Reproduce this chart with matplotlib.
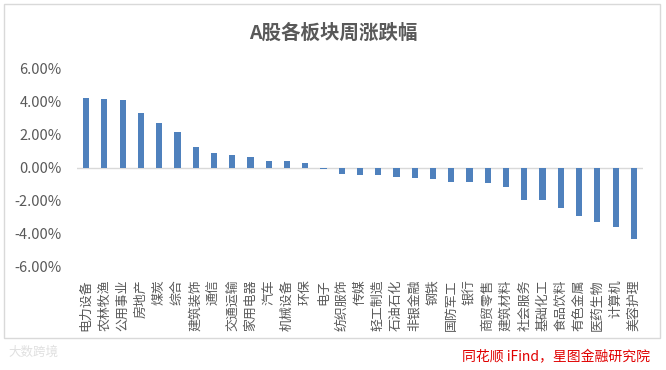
import matplotlib
matplotlib.use("Agg")
import matplotlib.pyplot as plt
from matplotlib.patches import Rectangle
from matplotlib.ticker import FuncFormatter

plt.rcParams['font.family'] = ['Noto Sans CJK SC', 'DejaVu Sans']

# 板块及周涨跌幅 (%)
sectors = ['电力设备', '农林牧渔', '公用事业', '房地产', '煤炭', '综合', '建筑装饰', '通信',
           '交通运输', '家用电器', '汽车', '机械设备', '环保', '电子', '纺织服饰', '传媒',
           '轻工制造', '石油石化', '非银金融', '钢铁', '国防军工', '银行', '商贸零售', '建筑材料',
           '社会服务', '基础化工', '食品饮料', '有色金属', '医药生物', '计算机', '美容护理']
changes = [4.17, 4.11, 4.05, 3.29, 2.69, 2.15, 1.22, 0.86,
           0.74, 0.62, 0.40, 0.40, 0.26, -0.08, -0.40, -0.45,
           -0.45, -0.58, -0.64, -0.70, -0.88, -0.88, -0.94, -1.18,
           -1.95, -1.95, -2.43, -2.93, -3.29, -3.59, -4.32]
yticks = [-6, -4, -2, 0, 2, 4, 6]

W, H = 666, 370
fig = plt.figure(figsize=(W / 100, H / 100), dpi=100)

# outer chart border
fig.patches.append(Rectangle((4 / W, 1 - 338 / H), 656 / W, 334 / H, transform=fig.transFigure,
                             fill=False, edgecolor='#d9d9d9', linewidth=1))

ax = fig.add_axes([77 / W, 1 - 267 / H, 566 / W, 199 / H])
x = list(range(len(sectors)))
ax.bar(x, changes, width=0.34, color='#4f81bd', zorder=2)
ax.axhline(0, color='#d9d9d9', linewidth=1, zorder=1)

ax.set_xlim(-0.5, len(sectors) - 0.5)
ax.set_ylim(-6, 6)
ax.set_yticks(yticks)
ax.yaxis.set_major_formatter(FuncFormatter(lambda v, p: f'{v:.2f}%'))
ax.set_xticks(x)
ax.set_xticklabels(sectors, rotation=90, fontsize=9.3, color='#595959')
ax.tick_params(axis='x', length=0, pad=9)
ax.tick_params(axis='y', length=0, pad=11, labelsize=10.5, labelcolor='#595959')
for s in ax.spines.values():
    s.set_visible(False)

fig.text(333 / W, 1 - 33 / H, 'A股各板块周涨跌幅', ha='center', va='center',
         fontsize=14, fontweight='bold', color='#595959')
fig.text(650 / W, 1 - 357 / H, '同花顺 iFind，星图金融研究院', ha='right', va='center',
         fontsize=10, style='italic', color='#e00000')
fig.text(8 / W, 1 - 352 / H, '大数跨境', ha='left', va='center',
         fontsize=9, color='#e0e0e0')

fig.savefig('out.png', dpi=100)
